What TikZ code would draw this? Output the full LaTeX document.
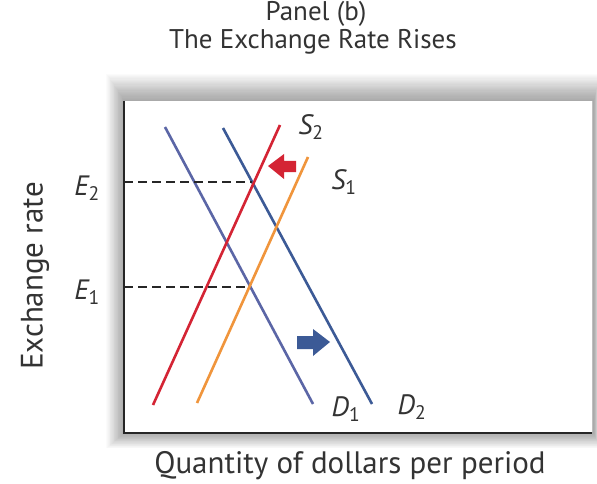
\documentclass[tikz,border=0pt]{standalone}
\usepackage{fontspec}
\setmainfont{PT Sans}
\usetikzlibrary{calc}
\definecolor{dOne}{HTML}{5B66A6}
\definecolor{dTwo}{HTML}{3C5A96}
\definecolor{sTwo}{HTML}{D42434}
\definecolor{sOne}{HTML}{F0953C}
\definecolor{txt}{HTML}{333333}
\tikzset{
  curve/.style={line width=2.6pt},
  lbl/.style={text=txt, font=\fontsize{28}{30}\selectfont\itshape, inner sep=0pt},
  ttl/.style={text=txt, font=\fontsize{27}{29}\selectfont, inner sep=0pt},
  axl/.style={text=txt, font=\fontsize{31}{33}\selectfont, inner sep=0pt},
  dashline/.style={line width=1.2pt, dash pattern=on 9pt off 5pt, color=black!85}
}
\begin{document}
\begin{tikzpicture}[x=1pt,y=-1pt]
\useasboundingbox (0,0) rectangle (597,484);
\fill[white] (0,0) rectangle (597,484);
% shadow
\foreach \d in {0,1,...,22}{
  \fill[black, opacity=0.016] ($(124-\d*0.8,100-\d*1.2)$) rectangle ($(594+\d*0.25,433+\d*0.7)$);
}
\fill[white] (124,101) rectangle (592,432);
\draw[line width=0.6pt, black!25] (592,101) -- (592,432);
% axes
\coordinate (origin) at (124,433);
\coordinate (ytop) at (124,101);
\coordinate (xend) at (592,433);
\draw[line width=2.4pt, black!85] (ytop) -- (origin) -- (xend);
% curves
\coordinate (d1a) at (165,127); \coordinate (d1b) at (313,404);
\coordinate (d2a) at (223,128); \coordinate (d2b) at (372,404);
\coordinate (s2a) at (280,125); \coordinate (s2b) at (153,405);
\coordinate (s1a) at (308,157); \coordinate (s1b) at (197,403);
\draw[curve, dOne] (d1a) -- (d1b);
\draw[curve, dTwo] (d2a) -- (d2b);
\draw[curve, sTwo] (s2b) -- (s2a);
\draw[curve, sOne] (s1b) -- (s1a);
% dashed lines
\coordinate (e2axis) at (124,182); \coordinate (e2pt) at (252,182);
\coordinate (e1axis) at (124,287); \coordinate (e1pt) at (248,287);
\draw[dashline] (e2axis) -- (e2pt);
\draw[dashline] (e1axis) -- (e1pt);
% shift arrows
\fill[sTwo] (268,166) -- (284,154) -- (284,161) -- (296,161) -- (296,172) -- (284,172) -- (284,179) -- cycle;
\fill[dTwo] (330,342) -- (313,329) -- (313,336) -- (297,336) -- (297,349) -- (313,349) -- (313,356) -- cycle;
% labels
\node[lbl] (S2) at (311,127) {S\textsubscript{\upshape 2}};
\node[lbl] (S1) at (344,182) {S\textsubscript{\upshape 1}};
\node[lbl] (D1) at (346,409) {D\textsubscript{\upshape 1}};
\node[lbl] (D2) at (412,407) {D\textsubscript{\upshape 2}};
\node[lbl] (E2) at (87,188) {E\textsubscript{\upshape 2}};
\node[lbl] (E1) at (87,292) {E\textsubscript{\upshape 1}};
% titles
\node[ttl] (t1) at (316,14) {Panel (b)};
\node[ttl] (t2) at (313,42) {The Exchange Rate Rises};
\node[axl, rotate=90] (ylab) at (35,276) {Exchange rate};
\node[axl] (xlab) at (350,466) {Quantity of dollars per period};
\end{tikzpicture}
\end{document}
